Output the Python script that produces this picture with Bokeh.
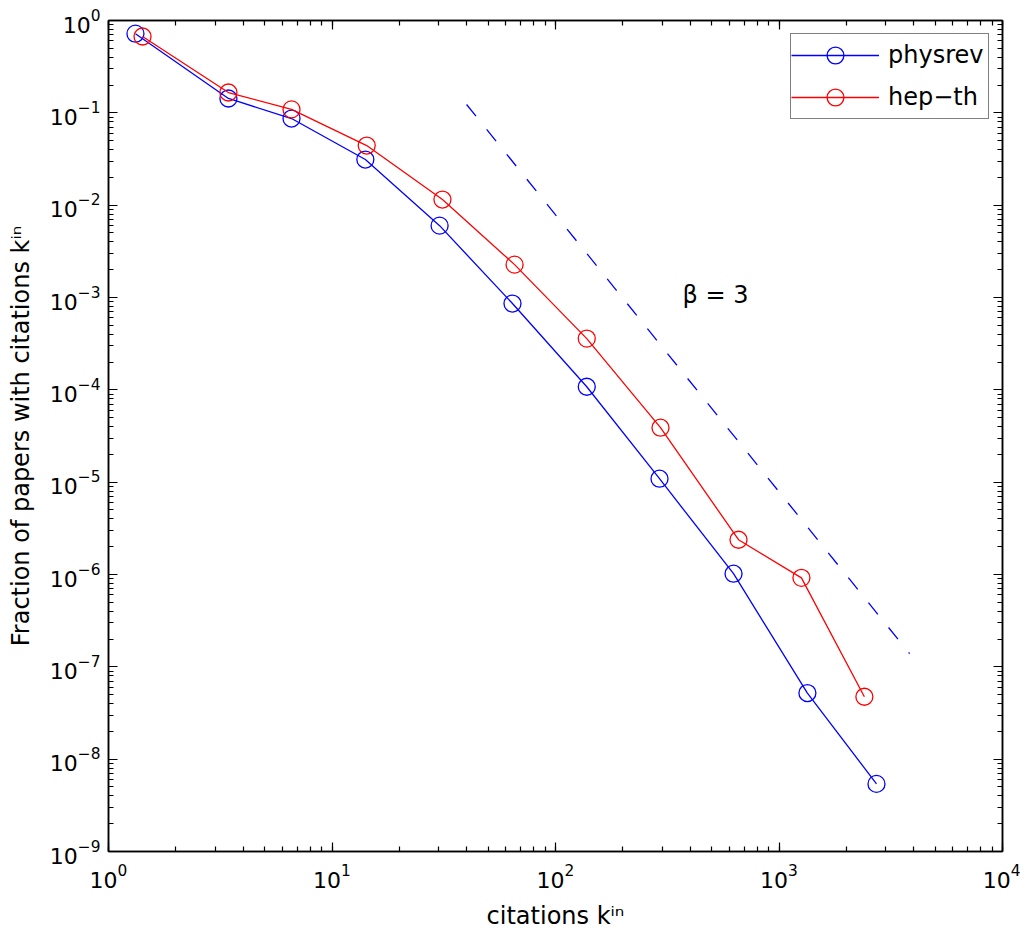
from bokeh.plotting import figure
from bokeh.models import LogAxis, LogTicker, Legend, LegendItem, ColumnDataSource
from bokeh.core.properties import value
from bokeh.embed import file_html
from bokeh.resources import INLINE

# citations k_in (x) and fraction of papers (y)
k_physrev = [1.32, 3.44, 6.59, 14.1, 30.3, 64.2, 138, 292, 626, 1340, 2730]
f_physrev = [0.72, 0.143, 0.0867, 0.0312, 0.0060, 8.6e-4, 1.08e-4, 1.09e-5, 1.02e-6, 5.2e-8, 5.4e-9]
k_hepth = [1.42, 3.44, 6.59, 14.3, 31.2, 65.6, 138, 295, 659, 1260, 2410]
f_hepth = [0.671, 0.166, 0.109, 0.0442, 0.0115, 2.27e-3, 3.59e-4, 3.89e-5, 2.38e-6, 9.2e-7, 4.74e-8]

# reference power law, beta = 3
guide_k = [40, 3840]
guide_f = [0.123, 1.39e-7]
guide_label = ["β = 3"]
guide_label_k = [520]
guide_label_f = [1.07e-3]

FONT = "DejaVu Sans"

p = figure(width=1020, height=932, x_axis_type="log", y_axis_type="log",
           x_range=(1, 1e4), y_range=(1e-9, 1),
           output_backend="svg", toolbar_location=None,
           min_border_left=108, min_border_top=20, min_border_right=18, min_border_bottom=81,
           background_fill_color="white", border_fill_color="white")
p.grid.visible = False
p.outline_line_color = "black"
p.outline_line_width = 1.5

bottom = p.below[0]
left = p.left[0]
bottom.ticker = LogTicker(num_minor_ticks=10)
left.ticker = LogTicker(num_minor_ticks=10)

top = LogAxis(ticker=LogTicker(num_minor_ticks=10))
right = LogAxis(ticker=LogTicker(num_minor_ticks=10))
p.add_layout(top, "above")
p.add_layout(right, "right")

for ax in [bottom, left, top, right]:
    ax.major_tick_in = 9
    ax.major_tick_out = 0
    ax.minor_tick_in = 5
    ax.minor_tick_out = 0
    ax.axis_line_width = 1.5
    ax.major_tick_line_width = 1.2
    ax.minor_tick_line_width = 1.2
    ax.axis_line_color = "black"
    ax.major_tick_line_color = "black"
    ax.minor_tick_line_color = "black"
    ax.major_label_text_font = FONT
    ax.major_label_text_font_size = "22px"
    ax.major_label_text_color = "black"

for ax in [top, right]:
    ax.major_label_text_font_size = "1px"
    ax.major_label_text_alpha = 0
    ax.major_label_standoff = 0

bottom.major_label_standoff = 12
left.major_label_standoff = 8
bottom.axis_label = "citations kⁱⁿ"
left.axis_label = "Fraction of papers with citations kⁱⁿ"
for ax in [bottom, left]:
    ax.axis_label_text_font = FONT
    ax.axis_label_text_font_size = "24px"
    ax.axis_label_text_font_style = "normal"
    ax.axis_label_text_color = "black"
bottom.axis_label_standoff = 11
left.axis_label_standoff = 12

src_p = ColumnDataSource(dict(k=k_physrev, f=f_physrev))
src_h = ColumnDataSource(dict(k=k_hepth, f=f_hepth))

l1 = p.line("k", "f", source=src_p, line_color="#0000ff", line_width=1.3)
m1 = p.scatter("k", "f", source=src_p, marker="circle", size=17, fill_color=None,
               line_color="#0000ff", line_width=1.3)
l2 = p.line("k", "f", source=src_h, line_color="#ff0000", line_width=1.3)
m2 = p.scatter("k", "f", source=src_h, marker="circle", size=17, fill_color=None,
               line_color="#ff0000", line_width=1.3)

p.line(guide_k, guide_f, line_color="#0000ff", line_width=1.3, line_dash="15 17")
p.text(guide_label_k, guide_label_f, text=guide_label, text_font=value(FONT),
       text_font_size="24px", text_align="center", text_baseline="middle", text_color="black")

legend = Legend(items=[LegendItem(label="physrev", renderers=[l1, m1]),
                       LegendItem(label="hep−th", renderers=[l2, m2])],
                location="top_right", margin=13, padding=0, spacing=-9,
                glyph_width=88, glyph_height=42, label_standoff=9, label_width=100,
                label_text_font=FONT, label_text_font_size="24px", label_text_color="black",
                border_line_color="black", border_line_width=1.5,
                background_fill_alpha=1.0)
p.add_layout(legend)

open("out.html", "w").write(file_html(p, INLINE))
